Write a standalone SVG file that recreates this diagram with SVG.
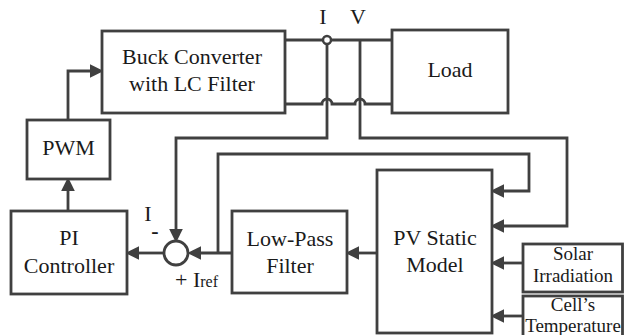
<svg xmlns="http://www.w3.org/2000/svg" width="625" height="335" viewBox="0 0 625 335">
<style>
.box{fill:#fff;stroke:#404040;stroke-width:2.8}
.w{fill:none;stroke:#404040;stroke-width:2.8}
.wa{fill:none;stroke:#404040;stroke-width:2.8;marker-end:url(#ah)}
text{font-family:'Liberation Serif','Times New Roman','DejaVu Serif',serif;font-size:22px;fill:#1a1a1a;text-anchor:middle}
.s{font-size:19px}
</style>
<defs>
<marker id="ah" markerUnits="userSpaceOnUse" markerWidth="14" markerHeight="14" viewBox="0 0 12 12" refX="2" refY="6" orient="auto">
<path d="M0,0 L12,6 L0,12 z" fill="#404040"/>
</marker>
</defs>
<rect width="625" height="335" fill="#fff"/>
<g id="connectors">
<path class="wa" d="M68,120 V71 H92"/>
<path class="wa" d="M68,211 V189"/>
<path class="w" d="M285,40 H392"/>
<path class="w" d="M285,104 H322 a5,5 0 0 1 10,0 H355 a5,5 0 0 1 10,0 H392"/>
<path class="wa" d="M327,44 V138 H176 V231"/>
<path class="wa" d="M360,40 V138 H567 V226 H502"/>
<path class="wa" d="M232,253 H199"/>
<path class="wa" d="M218,253 V154 H529 V191 H502"/>
<path class="wa" d="M164,253 H137"/>
<path class="wa" d="M377,253 H357"/>
<path class="wa" d="M523,263 H502"/>
<path class="wa" d="M523,316 H502"/>
<circle cx="327" cy="40" r="4" fill="#fff" stroke="#404040" stroke-width="2.5"/>
<circle id="sum" cx="176" cy="253" r="12" fill="#fff" stroke="#404040" stroke-width="2.8"/>
</g>
<g font-family="Liberation Serif, Times New Roman, serif">
<text x="323" y="24">I</text>
<text x="358" y="24">V</text>
<text x="148" y="221">I</text>
<text x="155" y="238" font-weight="bold">-</text>
<text x="175" y="287" style="text-anchor:start">+ I<tspan font-size="16">ref</tspan></text>
<g id="buck">
<rect class="box" x="102" y="31" width="183" height="82"/>
<text x="192" y="64">Buck Converter</text>
<text x="192" y="91">with LC Filter</text>
</g>
<g id="load">
<rect class="box" x="392" y="30" width="116" height="83"/>
<text x="450" y="77">Load</text>
</g>
<g id="pwm">
<rect class="box" x="27" y="120" width="83" height="59"/>
<text x="68.5" y="155">PWM</text>
</g>
<g id="pi">
<rect class="box" x="11" y="211" width="116" height="83"/>
<text x="69" y="245">PI</text>
<text x="69" y="273">Controller</text>
</g>
<g id="lowpass">
<rect class="box" x="232" y="211" width="115" height="82"/>
<text x="290" y="246">Low-Pass</text>
<text x="290" y="273">Filter</text>
</g>
<g id="pv">
<rect class="box" x="377" y="170" width="115" height="163"/>
<text x="435" y="245">PV Static</text>
<text x="435" y="272">Model</text>
</g>
<g id="solar">
<rect class="box" x="523" y="244" width="99.5" height="48"/>
<text class="s" x="573" y="260">Solar</text>
<text class="s" x="573" y="282">Irradiation</text>
</g>
<g id="temp">
<rect class="box" x="523" y="296" width="99.5" height="50"/>
<text class="s" x="573" y="311">Cell’s</text>
<text class="s" x="573" y="332">Temperature</text>
</g>
</g>
</svg>
